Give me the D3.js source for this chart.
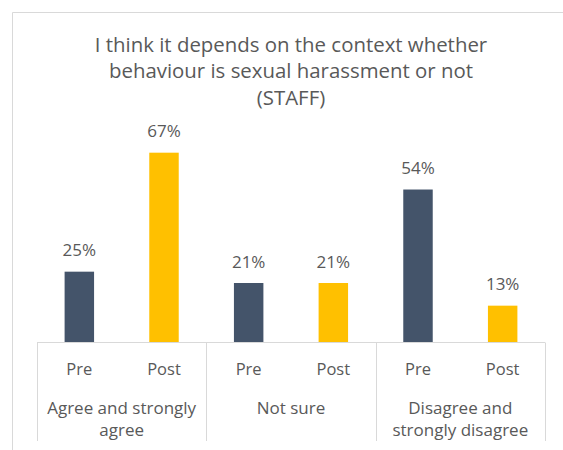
<!DOCTYPE html>
<html>
<head>
<meta charset="utf-8">
<script src="https://cdn.jsdelivr.net/npm/d3@7"></script>
<style>
  html, body { margin: 0; padding: 0; background: #ffffff; }
  svg { display: block; font-family: "Open Sans", sans-serif; }
</style>
</head>
<body>
<svg id="chart" width="563" height="450"></svg>
<script>
// Survey responses, staff, before and after the session
const titleLines = [
  "I think it depends on the context whether",
  "behaviour is sexual harassment or not",
  "(STAFF)"
];
const groups = ["Agree and strongly agree", "Not sure", "Disagree and strongly disagree"];
const groupLabelLines = [
  ["Agree and strongly", "agree"],
  ["Not sure"],
  ["Disagree and", "strongly disagree"]
];
const phases = ["Pre", "Post"];
const preValues = [25, 21, 54];
const postValues = [67, 21, 13];

const colors = { Pre: "#44546a", Post: "#ffc000" };
const textColor = "#595959";
const gridColor = "#d9d9d9";

const rows = groups.map((g, i) => ({
  group: g,
  values: [
    { phase: "Pre", value: preValues[i] },
    { phase: "Post", value: postValues[i] }
  ]
}));

const svg = d3.select("#chart");

// chart frame
svg.append("path")
  .attr("d", "M12.5,450 V12.5 H563")
  .attr("fill", "none")
  .attr("stroke", gridColor)
  .attr("stroke-width", 1);

// title
svg.append("g")
  .selectAll("text")
  .data(titleLines)
  .join("text")
  .attr("x", 291)
  .attr("y", (d, i) => 52 + i * 26.3)
  .attr("text-anchor", "middle")
  .attr("font-size", 20.4)
  .attr("fill", textColor)
  .text(d => d);

const baseY = 342.5;
const plotLeft = 37, plotRight = 545;

const x0 = d3.scaleBand().domain(groups).range([plotLeft, plotRight]).padding(0);
const x1 = d3.scaleBand().domain(phases).range([0, x0.bandwidth()])
  .paddingInner(0.652).paddingOuter(0.326);
const y = d3.scaleLinear().domain([0, 100]).range([baseY, baseY - 283.3]);

// bars
const g = svg.append("g")
  .selectAll("g")
  .data(rows)
  .join("g")
  .attr("transform", d => `translate(${x0(d.group)},0)`);

g.selectAll("rect")
  .data(d => d.values)
  .join("rect")
  .attr("x", d => x1(d.phase))
  .attr("y", d => y(d.value))
  .attr("width", x1.bandwidth())
  .attr("height", d => y(0) - y(d.value))
  .attr("fill", d => colors[d.phase]);

// value labels
g.selectAll("text.val")
  .data(d => d.values)
  .join("text")
  .attr("class", "val")
  .attr("x", d => x1(d.phase) + x1.bandwidth() / 2)
  .attr("y", d => y(d.value) - 15.5)
  .attr("text-anchor", "middle")
  .attr("font-size", 17)
  .attr("fill", textColor)
  .text(d => d.value + "%");

// multi-level category axis
const axis = svg.append("g");
axis.append("line")
  .attr("x1", plotLeft).attr("x2", plotRight)
  .attr("y1", baseY).attr("y2", baseY)
  .attr("stroke", gridColor).attr("stroke-width", 1);

const dividers = groups.map(gr => x0(gr)).concat([plotRight]);
axis.selectAll("line.div")
  .data(dividers)
  .join("line")
  .attr("class", "div")
  .attr("x1", d => Math.round(d) + 0.5).attr("x2", d => Math.round(d) + 0.5)
  .attr("y1", baseY).attr("y2", 441)
  .attr("stroke", gridColor).attr("stroke-width", 1);

// Pre / Post labels
rows.forEach(r => {
  axis.append("g")
    .selectAll("text")
    .data(phases)
    .join("text")
    .attr("x", p => x0(r.group) + x1(p) + x1.bandwidth() / 2)
    .attr("y", 374.5)
    .attr("text-anchor", "middle")
    .attr("font-size", 16.5)
    .attr("fill", textColor)
    .text(p => p);
});

// group labels
groups.forEach((gr, i) => {
  axis.append("g")
    .selectAll("text")
    .data(groupLabelLines[i])
    .join("text")
    .attr("x", x0(gr) + x0.bandwidth() / 2)
    .attr("y", (d, j) => 414 + j * 22)
    .attr("text-anchor", "middle")
    .attr("font-size", 17)
    .attr("fill", textColor)
    .text(d => d);
});
</script>
</body>
</html>
